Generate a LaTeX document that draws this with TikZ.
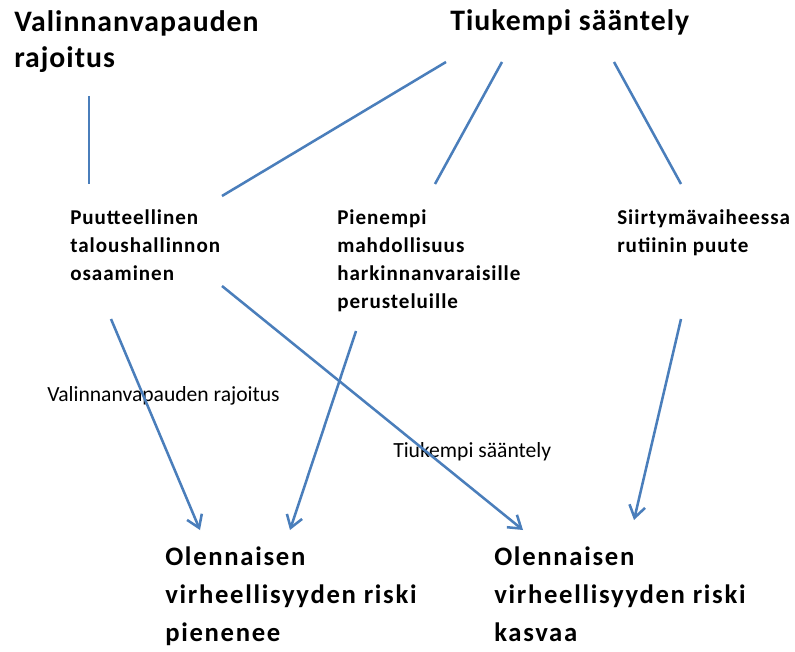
\documentclass[tikz,border=0pt]{standalone}
\usepackage{fontspec}
\setmainfont{Carlito}
\usepackage{tikz}
\usetikzlibrary{arrows.meta,positioning}

\definecolor{linkblue}{HTML}{4A7EBB}

\begin{document}
\begin{tikzpicture}[
        x=0.75pt,
        y=-0.75pt,
        link/.style={linkblue, line width=1.9pt},
        effect/.style={link, -{Straight Barb[length=9pt,width=12pt]}},
        cause/.style={anchor=north west, inner sep=0pt, align=left, font=\bfseries\fontsize{22.3}{27}\selectfont\addfontfeatures{LetterSpace=3.4}},
        factor/.style={anchor=north west, inner sep=0pt, align=left, font=\bfseries\fontsize{15.8}{21}\selectfont\addfontfeatures{LetterSpace=4.6}},
        outcome/.style={anchor=north west, inner sep=0pt, align=left, font=\bfseries\fontsize{20}{28.2}\selectfont\addfontfeatures{LetterSpace=6.4}},
        tag/.style={anchor=west, inner sep=0pt, font=\fontsize{16.2}{19}\selectfont}
    ]
        \useasboundingbox (0,0) rectangle (795,652);

        % causes
        \node[cause] (valinta) at (14,10) {Valinnanvapauden\\rajoitus};
        \node[cause] (saantely) at (450,9) {Tiukempi sääntely};

        % factors
        \node[factor] (osaaminen) at (70,209) {Puutteellinen\\taloushallinnon\\osaaminen};
        \node[factor] (harkinta) at (337,209) {Pienempi\\mahdollisuus\\harkinnanvaraisille\\perusteluille};
        \node[factor] (rutiini) at (617,209) {Siirtymävaiheessa\\rutiinin puute};

        % outcomes
        \node[outcome] (pienenee) at (165,547) {Olennaisen\\virheellisyyden riski\\pienenee};
        \node[outcome] (kasvaa) at (494,547) {Olennaisen\\virheellisyyden riski\\kasvaa};

        % labels
        \node[tag] (tagvalinta) at (47,396) {Valinnanvapauden rajoitus};
        \node[tag] (tagsaantely) at (393,452) {Tiukempi sääntely};

        % connector ends
        \coordinate (va) at (89,96);
        \coordinate (vb) at (89,184);
        \coordinate (sa1) at (446,62);
        \coordinate (sb1) at (222,196);
        \coordinate (sa2) at (502,62);
        \coordinate (sb2) at (435,184);
        \coordinate (sa3) at (614,62);
        \coordinate (sb3) at (681,184);
        \coordinate (oa1) at (111,319);
        \coordinate (ob1) at (200,530);
        \coordinate (oa2) at (222,286);
        \coordinate (ob2) at (523,530);
        \coordinate (ha) at (356,331);
        \coordinate (hb) at (290,530);
        \coordinate (ra) at (681,319);
        \coordinate (rb) at (634,520);

        \draw[link] (va) -- (vb);
        \draw[link] (sa1) -- (sb1);
        \draw[link] (sa2) -- (sb2);
        \draw[link] (sa3) -- (sb3);

        \draw[effect] (oa1) -- (ob1);
        \draw[effect] (oa2) -- (ob2);
        \draw[effect] (ha) -- (hb);
        \draw[effect] (ra) -- (rb);
    \end{tikzpicture}
\end{document}
